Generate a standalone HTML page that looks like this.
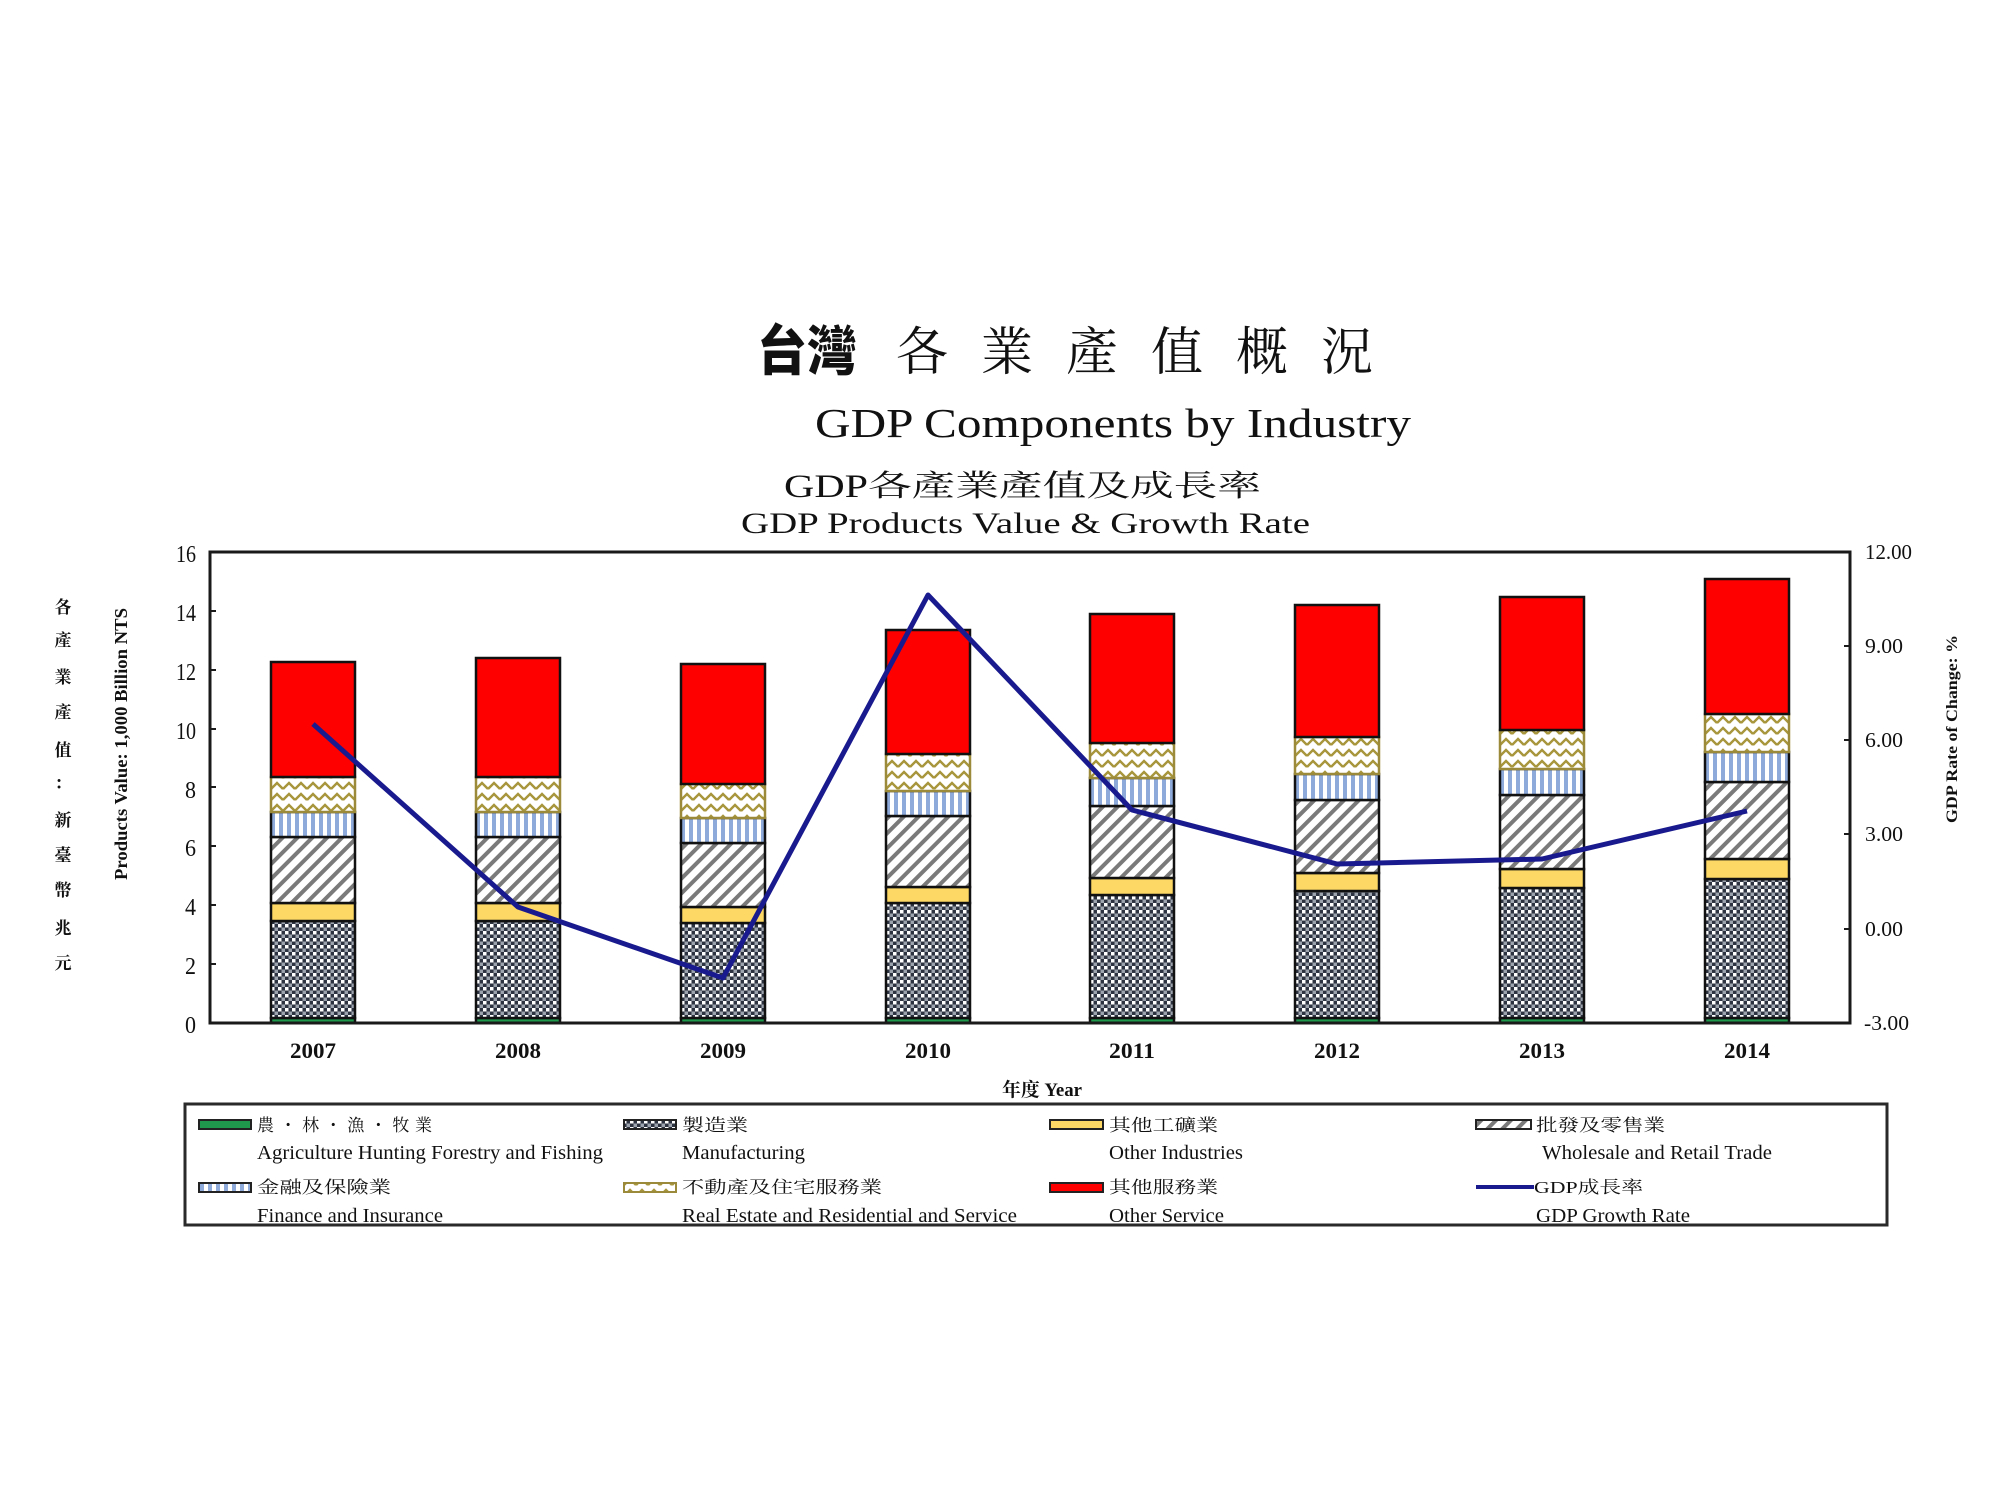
<!DOCTYPE html>
<html>
<head>
<meta charset="utf-8">
<style>
html,body{margin:0;padding:0;background:#fff;}
svg{display:block;}
.s{font-family:"Liberation Serif","Noto Serif CJK SC","Noto Sans CJK TC",serif;fill:#111;}
.c{font-family:"Liberation Serif","Noto Serif CJK SC","Noto Sans CJK TC",serif;fill:#111;}
.seg{stroke:#111;stroke-width:2.5;}
.gr{fill:#1f9a4d;}
.mf{fill:url(#chk);}
.ye{fill:#fdd865;}
.dg{fill:url(#diag);}
.st{fill:url(#vst);}
.zz{fill:url(#zig);stroke:#9a8a3a;}
.rd{fill:#ff0000;}
</style>
</head>
<body>
<svg width="2000" height="1500" viewBox="0 0 2000 1500" xmlns="http://www.w3.org/2000/svg">
<defs>
  <pattern id="chk" patternUnits="userSpaceOnUse" width="7" height="7">
    <rect width="7" height="7" fill="#2d3340"/>
    <rect x="0" y="0" width="3.5" height="3.5" fill="#ffffff"/>
    <rect x="3.5" y="3.5" width="3.5" height="3.5" fill="#9da3ad"/>
  </pattern>
  <pattern id="diag" patternUnits="userSpaceOnUse" width="10.5" height="10.5" patternTransform="rotate(45)">
    <rect width="10.5" height="10.5" fill="#ffffff"/>
    <rect x="0" y="0" width="4" height="10.5" fill="#7a7a7a"/>
  </pattern>
  <pattern id="vst" patternUnits="userSpaceOnUse" width="8" height="8">
    <rect width="8" height="8" fill="#ffffff"/>
    <rect x="0" y="0" width="4" height="8" fill="#8eaadb"/>
  </pattern>
  <pattern id="zig" patternUnits="userSpaceOnUse" width="12" height="11">
    <rect width="12" height="11" fill="#ffffff"/>
    <path d="M0,8 L6,2 L12,8" fill="none" stroke="#a8963c" stroke-width="2.4"/>
  </pattern>
</defs>

<!-- Titles -->
<text class="c" x="757" y="370" font-size="54" font-weight="900" textLength="100" lengthAdjust="spacingAndGlyphs" style="font-family:'Noto Sans CJK TC','Noto Sans CJK SC',sans-serif;">台灣</text>
<text class="c" x="896" y="370" font-size="52" textLength="477" lengthAdjust="spacing">各業產值概況</text>
<text class="s" x="815" y="437" font-size="41" textLength="596" lengthAdjust="spacingAndGlyphs">GDP Components by Industry</text>
<text class="s" x="784" y="497" font-size="33" textLength="84" lengthAdjust="spacingAndGlyphs">GDP</text>
<text class="c" x="868" y="496" font-size="30" textLength="393" lengthAdjust="spacingAndGlyphs">各產業產值及成長率</text>
<text class="s" x="741" y="533" font-size="30" textLength="569" lengthAdjust="spacingAndGlyphs">GDP Products Value &amp; Growth Rate</text>

<!-- Left axis titles -->
<g class="c" font-size="17" font-weight="bold" text-anchor="middle">
  <text x="63" y="613">各</text>
  <text x="63" y="646">產</text>
  <text x="63" y="683">業</text>
  <text x="63" y="718">產</text>
  <text x="63" y="756">值</text>
  <text x="63" y="789">：</text>
  <text x="63" y="826">新</text>
  <text x="63" y="861">臺</text>
  <text x="63" y="896">幣</text>
  <text x="63" y="934">兆</text>
  <text x="63" y="969">元</text>
</g>
<text class="s" font-size="18" font-weight="bold" transform="translate(127,880) rotate(-90)" textLength="272" lengthAdjust="spacingAndGlyphs">Products Value: 1,000 Billion NTS</text>

<!-- Right axis title -->
<text class="s" font-size="16" font-weight="bold" transform="translate(1957,823) rotate(-90)" textLength="188" lengthAdjust="spacingAndGlyphs">GDP Rate of Change: %</text>

<!-- Left tick labels -->
<g class="s" font-size="24" text-anchor="end">
  <text x="196" y="562" textLength="20" lengthAdjust="spacingAndGlyphs">16</text>
  <text x="196" y="621" textLength="20" lengthAdjust="spacingAndGlyphs">14</text>
  <text x="196" y="680" textLength="20" lengthAdjust="spacingAndGlyphs">12</text>
  <text x="196" y="739" textLength="20" lengthAdjust="spacingAndGlyphs">10</text>
  <text x="196" y="798" textLength="11" lengthAdjust="spacingAndGlyphs">8</text>
  <text x="196" y="856" textLength="11" lengthAdjust="spacingAndGlyphs">6</text>
  <text x="196" y="915" textLength="11" lengthAdjust="spacingAndGlyphs">4</text>
  <text x="196" y="974" textLength="11" lengthAdjust="spacingAndGlyphs">2</text>
  <text x="196" y="1033" textLength="11" lengthAdjust="spacingAndGlyphs">0</text>
</g>

<!-- Right tick labels -->
<g class="s" font-size="21">
  <text x="1865" y="559" textLength="47" lengthAdjust="spacingAndGlyphs">12.00</text>
  <text x="1865" y="653" textLength="38" lengthAdjust="spacingAndGlyphs">9.00</text>
  <text x="1865" y="747" textLength="38" lengthAdjust="spacingAndGlyphs">6.00</text>
  <text x="1865" y="841" textLength="38" lengthAdjust="spacingAndGlyphs">3.00</text>
  <text x="1865" y="936" textLength="38" lengthAdjust="spacingAndGlyphs">0.00</text>
  <text x="1864" y="1030" textLength="45" lengthAdjust="spacingAndGlyphs">-3.00</text>
</g>

<!-- Bars -->
<g class="seg">
  <g transform="translate(271,0)">
    <rect class="gr" x="0" y="1018" width="84" height="5"/>
    <rect class="mf" x="0" y="921" width="84" height="97"/>
    <rect class="ye" x="0" y="903" width="84" height="18"/>
    <rect class="dg" x="0" y="837" width="84" height="66"/>
    <rect class="st" x="0" y="812" width="84" height="25"/>
    <rect class="zz" x="0" y="777" width="84" height="35"/>
    <rect class="rd" x="0" y="662" width="84" height="115"/>
  </g>
  <g transform="translate(476,0)">
    <rect class="gr" x="0" y="1018" width="84" height="5"/>
    <rect class="mf" x="0" y="921" width="84" height="97"/>
    <rect class="ye" x="0" y="903" width="84" height="18"/>
    <rect class="dg" x="0" y="837" width="84" height="66"/>
    <rect class="st" x="0" y="812" width="84" height="25"/>
    <rect class="zz" x="0" y="777" width="84" height="35"/>
    <rect class="rd" x="0" y="658" width="84" height="119"/>
  </g>
  <g transform="translate(681,0)">
    <rect class="gr" x="0" y="1018" width="84" height="5"/>
    <rect class="mf" x="0" y="923" width="84" height="95"/>
    <rect class="ye" x="0" y="907" width="84" height="16"/>
    <rect class="dg" x="0" y="843" width="84" height="64"/>
    <rect class="st" x="0" y="818" width="84" height="25"/>
    <rect class="zz" x="0" y="784" width="84" height="34"/>
    <rect class="rd" x="0" y="664" width="84" height="120"/>
  </g>
  <g transform="translate(886,0)">
    <rect class="gr" x="0" y="1018" width="84" height="5"/>
    <rect class="mf" x="0" y="903" width="84" height="115"/>
    <rect class="ye" x="0" y="887" width="84" height="16"/>
    <rect class="dg" x="0" y="816" width="84" height="71"/>
    <rect class="st" x="0" y="791" width="84" height="25"/>
    <rect class="zz" x="0" y="754" width="84" height="37"/>
    <rect class="rd" x="0" y="630" width="84" height="124"/>
  </g>
  <g transform="translate(1090,0)">
    <rect class="gr" x="0" y="1018" width="84" height="5"/>
    <rect class="mf" x="0" y="895" width="84" height="123"/>
    <rect class="ye" x="0" y="878" width="84" height="17"/>
    <rect class="dg" x="0" y="806" width="84" height="72"/>
    <rect class="st" x="0" y="778" width="84" height="28"/>
    <rect class="zz" x="0" y="743" width="84" height="35"/>
    <rect class="rd" x="0" y="614" width="84" height="129"/>
  </g>
  <g transform="translate(1295,0)">
    <rect class="gr" x="0" y="1018" width="84" height="5"/>
    <rect class="mf" x="0" y="891" width="84" height="127"/>
    <rect class="ye" x="0" y="873" width="84" height="18"/>
    <rect class="dg" x="0" y="800" width="84" height="73"/>
    <rect class="st" x="0" y="774" width="84" height="26"/>
    <rect class="zz" x="0" y="737" width="84" height="37"/>
    <rect class="rd" x="0" y="605" width="84" height="132"/>
  </g>
  <g transform="translate(1500,0)">
    <rect class="gr" x="0" y="1018" width="84" height="5"/>
    <rect class="mf" x="0" y="888" width="84" height="130"/>
    <rect class="ye" x="0" y="869" width="84" height="19"/>
    <rect class="dg" x="0" y="795" width="84" height="74"/>
    <rect class="st" x="0" y="769" width="84" height="26"/>
    <rect class="zz" x="0" y="730" width="84" height="39"/>
    <rect class="rd" x="0" y="597" width="84" height="133"/>
  </g>
  <g transform="translate(1705,0)">
    <rect class="gr" x="0" y="1018" width="84" height="5"/>
    <rect class="mf" x="0" y="879" width="84" height="139"/>
    <rect class="ye" x="0" y="859" width="84" height="20"/>
    <rect class="dg" x="0" y="782" width="84" height="77"/>
    <rect class="st" x="0" y="752" width="84" height="30"/>
    <rect class="zz" x="0" y="714" width="84" height="38"/>
    <rect class="rd" x="0" y="579" width="84" height="135"/>
  </g>
</g>

<!-- Plot frame -->
<rect x="210" y="552" width="1640" height="471" fill="none" stroke="#1a1a1a" stroke-width="3"/>

<!-- Ticks -->
<g stroke="#1a1a1a" stroke-width="2">
  <line x1="210" y1="611" x2="216" y2="611"/>
  <line x1="210" y1="670" x2="216" y2="670"/>
  <line x1="210" y1="729" x2="216" y2="729"/>
  <line x1="210" y1="787" x2="216" y2="787"/>
  <line x1="210" y1="846" x2="216" y2="846"/>
  <line x1="210" y1="905" x2="216" y2="905"/>
  <line x1="210" y1="964" x2="216" y2="964"/>
  <line x1="1844" y1="646" x2="1850" y2="646"/>
  <line x1="1844" y1="740" x2="1850" y2="740"/>
  <line x1="1844" y1="834" x2="1850" y2="834"/>
  <line x1="1844" y1="929" x2="1850" y2="929"/>
</g>

<!-- GDP growth line -->
<polyline points="313,724 518,907 723,978 928,595 1132,810 1337,864 1542,859 1747,811" fill="none" stroke="#1a1a8f" stroke-width="5" stroke-linejoin="round"/>

<!-- X labels -->
<g class="s" font-size="22" font-weight="bold" text-anchor="middle">
  <text x="313" y="1058" textLength="46" lengthAdjust="spacingAndGlyphs">2007</text>
  <text x="518" y="1058" textLength="46" lengthAdjust="spacingAndGlyphs">2008</text>
  <text x="723" y="1058" textLength="46" lengthAdjust="spacingAndGlyphs">2009</text>
  <text x="928" y="1058" textLength="46" lengthAdjust="spacingAndGlyphs">2010</text>
  <text x="1132" y="1058" textLength="46" lengthAdjust="spacingAndGlyphs">2011</text>
  <text x="1337" y="1058" textLength="46" lengthAdjust="spacingAndGlyphs">2012</text>
  <text x="1542" y="1058" textLength="46" lengthAdjust="spacingAndGlyphs">2013</text>
  <text x="1747" y="1058" textLength="46" lengthAdjust="spacingAndGlyphs">2014</text>
</g>
<text class="c" x="1002" y="1096" font-size="19" font-weight="bold" textLength="80" lengthAdjust="spacingAndGlyphs">年度 Year</text>

<!-- Legend -->
<rect x="185" y="1104" width="1702" height="121" fill="none" stroke="#2a2a2a" stroke-width="3"/>
<g stroke="#222" stroke-width="2">
  <rect x="199" y="1120" width="52" height="9" fill="#1f9a4d"/>
  <rect x="624" y="1120" width="52" height="9" fill="url(#chk)"/>
  <rect x="1050" y="1120" width="53" height="9" fill="#fdd865"/>
  <rect x="1476" y="1120" width="55" height="9" fill="url(#diag)"/>
  <rect x="199" y="1183" width="52" height="9" fill="url(#vst)"/>
  <rect x="624" y="1183" width="52" height="9" fill="url(#zig)" stroke="#9a8a3a"/>
  <rect x="1050" y="1183" width="53" height="9" fill="#ff0000"/>
</g>
<line x1="1476" y1="1187" x2="1534" y2="1187" stroke="#1a1a8f" stroke-width="4"/>

<g class="c" font-size="17">
  <text x="257" y="1131" textLength="175" lengthAdjust="spacing">農・林・漁・牧業</text>
  <text x="682" y="1131" textLength="66" lengthAdjust="spacingAndGlyphs">製造業</text>
  <text x="1109" y="1131" textLength="109" lengthAdjust="spacingAndGlyphs">其他工礦業</text>
  <text x="1536" y="1131" textLength="129" lengthAdjust="spacingAndGlyphs">批發及零售業</text>
  <text x="257" y="1193" textLength="134" lengthAdjust="spacingAndGlyphs">金融及保險業</text>
  <text x="682" y="1193" textLength="200" lengthAdjust="spacingAndGlyphs">不動產及住宅服務業</text>
  <text x="1109" y="1193" textLength="109" lengthAdjust="spacingAndGlyphs">其他服務業</text>
  <text x="1534" y="1193" textLength="109" lengthAdjust="spacingAndGlyphs">GDP成長率</text>
</g>
<g class="s" font-size="20">
  <text x="257" y="1159" textLength="346" lengthAdjust="spacingAndGlyphs">Agriculture Hunting Forestry and Fishing</text>
  <text x="682" y="1159" textLength="123" lengthAdjust="spacingAndGlyphs">Manufacturing</text>
  <text x="1109" y="1159" textLength="134" lengthAdjust="spacingAndGlyphs">Other Industries</text>
  <text x="1542" y="1159" textLength="230" lengthAdjust="spacingAndGlyphs">Wholesale and Retail Trade</text>
  <text x="257" y="1222" textLength="186" lengthAdjust="spacingAndGlyphs">Finance and Insurance</text>
  <text x="682" y="1222" textLength="335" lengthAdjust="spacingAndGlyphs">Real Estate and Residential and Service</text>
  <text x="1109" y="1222" textLength="115" lengthAdjust="spacingAndGlyphs">Other Service</text>
  <text x="1536" y="1222" textLength="154" lengthAdjust="spacingAndGlyphs">GDP Growth Rate</text>
</g>
</svg>
</body>
</html>
